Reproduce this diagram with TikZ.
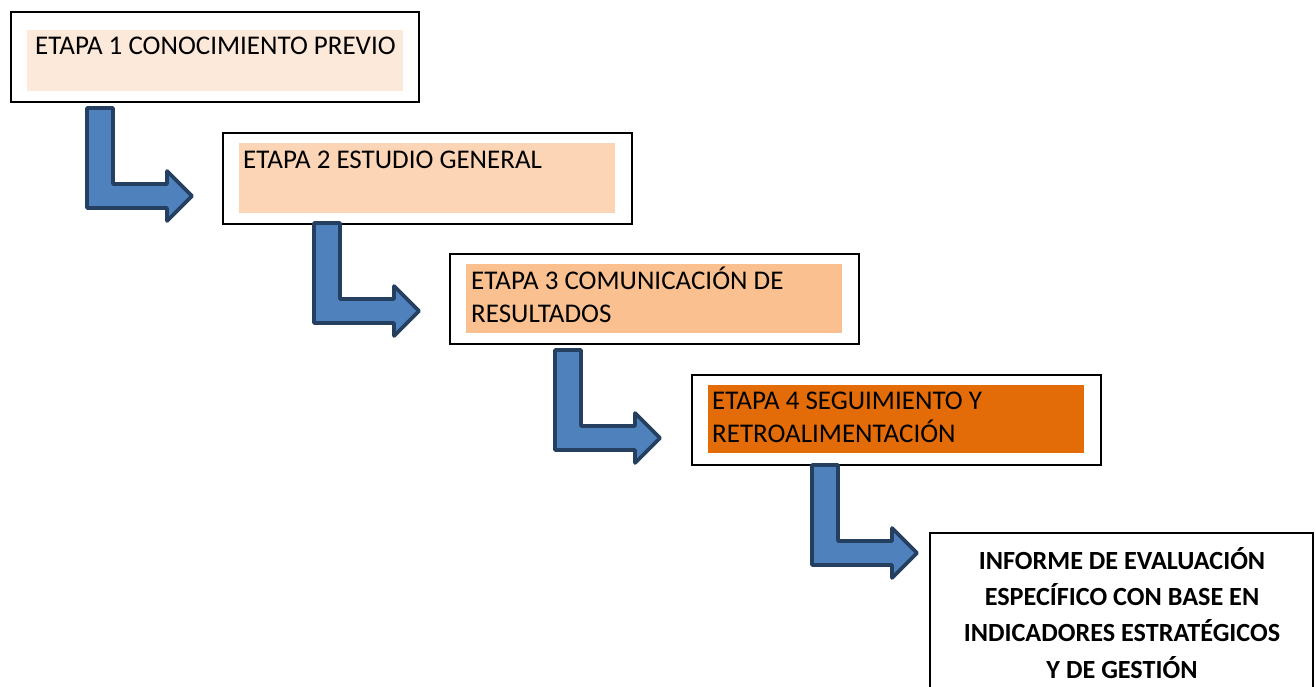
\documentclass[tikz,border=0pt]{standalone}
\usepackage{fontspec}
\setmainfont{Carlito}
\definecolor{c1}{HTML}{FCE9DA}
\definecolor{c2}{HTML}{FBD5B5}
\definecolor{c3}{HTML}{FAC090}
\definecolor{c4}{HTML}{E36C09}
\definecolor{arrfill}{HTML}{4F81BD}
\definecolor{arrline}{HTML}{243F60}
\tikzset{
  outerbox/.style={draw=black, line width=1.6pt, fill=white, inner sep=0pt, anchor=north west},
  fillbox/.style={draw=none, inner sep=0pt, anchor=north west},
  stagetext/.style={inner sep=0pt, anchor=base west, align=left, font=\fontsize{27}{32.5}\selectfont},
  finaltext/.style={inner sep=0pt, anchor=base, align=center, font=\fontsize{26.2}{36.2}\selectfont\bfseries},
  barrow/.style={fill=arrfill, draw=arrline, line width=3.6pt, line join=round},
  bent/.pic={\draw[barrow] (2,2) -- (28,2) -- (28,78) -- (82,78) -- (82,65) -- (107,90) -- (82,115) -- (82,102) -- (2,102) -- cycle;}
}
\begin{document}
\begin{tikzpicture}[x=1pt,y=-1pt]
\useasboundingbox (0,0) rectangle (1316,687);
\clip (0,0) rectangle (1316,687);
% stage 1
\node[outerbox, minimum width=408, minimum height=90] (b1) at (10,11) {};
\node[fillbox, fill=c1, minimum width=376, minimum height=61] (f1) at (27,30) {};
\node[stagetext] (t1) at (35,55) {ETAPA 1 CONOCIMIENTO PREVIO};
% stage 2
\node[outerbox, minimum width=409, minimum height=91] (b2) at (222,132) {};
\node[fillbox, fill=c2, minimum width=376, minimum height=70] (f2) at (239,143) {};
\node[stagetext] (t2) at (243,168) {ETAPA 2 ESTUDIO GENERAL};
% stage 3 (anchor at last baseline)
\node[outerbox, minimum width=409, minimum height=90] (b3) at (449,253) {};
\node[fillbox, fill=c3, minimum width=376, minimum height=69] (f3) at (466,264) {};
\node[stagetext] (t3) at (471,322) {ETAPA 3 COMUNICACIÓN DE\\RESULTADOS};
% stage 4
\node[outerbox, minimum width=409, minimum height=90] (b4) at (691,374) {};
\node[fillbox, fill=c4, minimum width=376, minimum height=68] (f4) at (708,385) {};
\node[stagetext] (t4) at (712,442) {ETAPA 4 SEGUIMIENTO Y\\RETROALIMENTACIÓN};
% final
\node[outerbox, minimum width=383, minimum height=200] (b5) at (929,532) {};
\node[finaltext] (t5) at (1122,678) {INFORME DE EVALUACIÓN\\ESPECÍFICO CON BASE EN\\INDICADORES ESTRATÉGICOS\\Y DE GESTIÓN};
% arrows
\coordinate (a1) at (85,106);
\coordinate (a2) at (312,221);
\coordinate (a3) at (553,348);
\coordinate (a4) at (810,463);
\pic at (a1) {bent};
\pic at (a2) {bent};
\pic at (a3) {bent};
\pic at (a4) {bent};
\end{tikzpicture}
\end{document}
